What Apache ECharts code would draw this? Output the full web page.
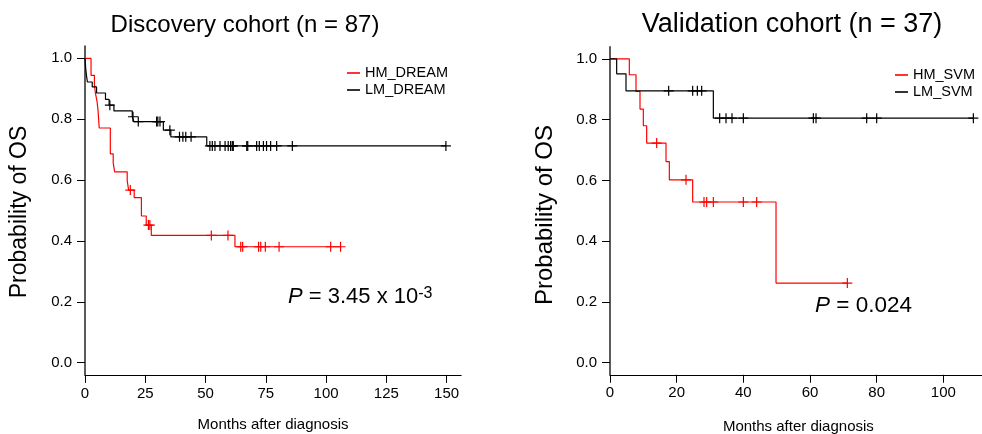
<!DOCTYPE html>
<html>
<head>
<meta charset="utf-8">
<script src="https://cdn.jsdelivr.net/npm/echarts@6/dist/echarts.min.js"></script>
<style>
html,body{margin:0;padding:0;background:#fff;}
#chart{width:982px;height:434px;}
</style>
</head>
<body>
<div id="chart"></div>
<script>
// ---------- Data ----------
const titles = ['Discovery cohort (n = 87)', 'Validation cohort (n = 37)'];
const xAxisName = 'Months after diagnosis';
const yAxisName = 'Probability of OS';
const discXTicks = [0, 25, 50, 75, 100, 125, 150];
const valXTicks = [0, 20, 40, 60, 80, 100];
const yTicks = [0, 0.2, 0.4, 0.6, 0.8, 1.0];

// Discovery HM_DREAM (red) KM steps
const discHMTime = [0, 2.5, 3.9, 4.3, 5.0, 5.4, 5.9, 10.5, 11.7, 12.3, 17.5, 18.1, 20.4, 23.4, 25.4, 27.5, 62.2, 106];
const discHMSurv = [1.0, 0.944, 0.915, 0.886, 0.858, 0.829, 0.771, 0.686, 0.657, 0.627, 0.598, 0.567, 0.542, 0.482, 0.452, 0.418, 0.381, 0.381];
const discHMCensorTime = [18.8, 26.3, 26.9, 52.4, 59.3, 64.6, 65.4, 72.0, 72.9, 74.8, 80.5, 101.9, 106];
const discHMCensorSurv = [0.567, 0.452, 0.452, 0.418, 0.418, 0.381, 0.381, 0.381, 0.381, 0.381, 0.381, 0.381, 0.381];

// Discovery LM_DREAM (black)
const discLMTime = [0, 0.3, 0.6, 1.0, 3.0, 4.8, 8.5, 10.0, 12.0, 19.6, 20.3, 32.5, 35.6, 50.5, 149.7];
const discLMSurv = [1.0, 0.966, 0.944, 0.922, 0.906, 0.886, 0.865, 0.846, 0.827, 0.808, 0.792, 0.764, 0.742, 0.712, 0.712];
const discLMCensorTime = [10.3, 19.9, 22.1, 29.7, 30.2, 31.1, 35.2, 39.2, 40.6, 41.8, 44.0,
  51.8, 52.8, 53.9, 56.0, 58.1, 59.4, 60.4, 61.1, 61.5, 67.1, 67.5, 71.2, 72.3, 74.0, 75.3, 77.0, 79.5, 86.0, 149.7];
const discLMCensorSurv = [0.846, 0.808, 0.792, 0.792, 0.792, 0.792, 0.764, 0.742, 0.742, 0.742, 0.742,
  0.712, 0.712, 0.712, 0.712, 0.712, 0.712, 0.712, 0.712, 0.712, 0.712, 0.712, 0.712, 0.712, 0.712, 0.712, 0.712, 0.712, 0.712, 0.712];

// Validation HM_SVM (red)
const valHMTime = [0, 5.8, 7.8, 9.0, 10.0, 11.0, 16.8, 17.8, 24.8, 49.8, 71.2];
const valHMSurv = [1.0, 0.948, 0.893, 0.835, 0.780, 0.723, 0.662, 0.602, 0.529, 0.262, 0.262];
const valHMCensorTime = [14.0, 22.8, 28.2, 29.0, 31.0, 40.0, 44.0, 71.2];
const valHMCensorSurv = [0.723, 0.602, 0.529, 0.529, 0.529, 0.529, 0.529, 0.262];

// Validation LM_SVM (black)
const valLMTime = [0, 2.0, 4.8, 31.0, 109];
const valLMSurv = [1.0, 0.951, 0.895, 0.805, 0.805];
const valLMCensorTime = [17.6, 24.8, 26.2, 27.5, 32.9, 34.8, 36.6, 40.0, 61.0, 61.8, 77.0, 80.0, 109];
const valLMCensorSurv = [0.895, 0.895, 0.895, 0.895, 0.805, 0.805, 0.805, 0.805, 0.805, 0.805, 0.805, 0.805, 0.805];

const pTexts = ['{i|P} = 3.45 x 10{s|-3}', '{i|P} = 0.024'];

// ---------- Helpers ----------
const FONT = '"Liberation Sans", Arial, Helvetica, sans-serif';
const RED = '#ff0000', BLACK = '#000000';
const PLUS = 'path://M4.4,0H5.6V4.4H10V5.6H5.6V10H4.4V5.6H0V4.4H4.4Z';
const zip = (a, b) => a.map((v, i) => [v, b[i]]);

function stepSeries(name, t, s, color, idx) {
  return {
    type: 'line', name: name, xAxisIndex: idx, yAxisIndex: idx,
    data: zip(t, s), step: 'end', showSymbol: false, symbol: 'none',
    lineStyle: { color: color, width: 1.2 }, itemStyle: { color: color },
    animation: false, silent: true, z: 3
  };
}
function censorSeries(name, t, s, color, idx) {
  return {
    type: 'scatter', name: name, xAxisIndex: idx, yAxisIndex: idx,
    data: zip(t, s), symbol: PLUS, symbolSize: 10,
    itemStyle: { color: color, opacity: 1 }, animation: false, silent: true, z: 4
  };
}
function xAxis(idx, max, ticks, gap) {
  return {
    type: 'value', gridIndex: idx, min: 0, max: max,
    name: xAxisName, nameLocation: 'middle', nameGap: gap,
    nameTextStyle: { fontFamily: FONT, fontSize: 15, color: '#000' },
    axisLine: { show: true, onZero: false, lineStyle: { color: '#000', width: 1.2 } },
    axisTick: { show: true, length: 8, customValues: ticks, lineStyle: { color: '#000', width: 1 } },
    axisLabel: { customValues: ticks, margin: 11, fontFamily: FONT, fontSize: 15, color: '#000' },
    splitLine: { show: false }
  };
}
function yAxis(idx) {
  return {
    type: 'value', gridIndex: idx, min: -0.04, max: 1.04,
    axisLine: { show: true, onZero: false, lineStyle: { color: '#333', width: 1.6 } },
    axisTick: { show: true, length: 8, customValues: yTicks, lineStyle: { color: '#000', width: 1 } },
    axisLabel: { customValues: yTicks, margin: 13, fontFamily: FONT, fontSize: 15, color: '#000',
      formatter: v => v.toFixed(1) },
    splitLine: { show: false }
  };
}
function legend(names, left, top) {
  return {
    data: names, orient: 'vertical', left: left, top: top, padding: 0,
    icon: 'rect', itemWidth: 13, itemHeight: 1.6, itemGap: 1,
    textStyle: { fontFamily: FONT, fontSize: 14.5, color: '#000', lineHeight: 16 },
    selectedMode: false
  };
}

const chart = echarts.init(document.getElementById('chart'), null, { renderer: 'canvas' });
chart.setOption({
  backgroundColor: '#fff',
  animation: false,
  grid: [
    { left: 85, top: 46.1, width: 376.1, height: 328.8, containLabel: false, outerBoundsMode: 'none' },
    { left: 610, top: 46.8, width: 376.7, height: 328.0, containLabel: false, outerBoundsMode: 'none' }
  ],
  xAxis: [xAxis(0, 156, discXTicks, 42), xAxis(1, 113, valXTicks, 45)],
  yAxis: [yAxis(0), yAxis(1)],
  legend: [legend(['HM_DREAM', 'LM_DREAM'], 347, 65), legend(['HM_SVM', 'LM_SVM'], 895, 67)],
  series: [
    stepSeries('HM_DREAM', discHMTime, discHMSurv, RED, 0),
    stepSeries('LM_DREAM', discLMTime, discLMSurv, BLACK, 0),
    censorSeries('HM_DREAM', discHMCensorTime, discHMCensorSurv, RED, 0),
    censorSeries('LM_DREAM', discLMCensorTime, discLMCensorSurv, BLACK, 0),
    stepSeries('HM_SVM', valHMTime, valHMSurv, RED, 1),
    stepSeries('LM_SVM', valLMTime, valLMSurv, BLACK, 1),
    censorSeries('HM_SVM', valHMCensorTime, valHMCensorSurv, RED, 1),
    censorSeries('LM_SVM', valLMCensorTime, valLMCensorSurv, BLACK, 1)
  ],
  graphic: [
    { type: 'text', x: 245, y: 25, style: { text: titles[0], fontFamily: FONT, fontSize: 24, fill: '#000', align: 'center', verticalAlign: 'middle' } },
    { type: 'text', x: 792, y: 25, style: { text: titles[1], fontFamily: FONT, fontSize: 27, fill: '#000', align: 'center', verticalAlign: 'middle' } },
    { type: 'text', x: 20, y: 212, rotation: Math.PI / 2, style: { text: yAxisName, fontFamily: FONT, fontSize: 23, fill: '#000', align: 'center', verticalAlign: 'middle' } },
    { type: 'text', x: 545, y: 215, rotation: Math.PI / 2, style: { text: yAxisName, fontFamily: FONT, fontSize: 24, fill: '#000', align: 'center', verticalAlign: 'middle' } },
    { type: 'text', x: 288, y: 297, style: { text: pTexts[0], fontFamily: FONT, fontSize: 22, fill: '#000', align: 'left', verticalAlign: 'middle',
        rich: { i: { fontStyle: 'italic', fontFamily: FONT, fontSize: 22, fill: '#000' }, s: { fontFamily: FONT, fontSize: 16, fill: '#000', verticalAlign: 'top' } } } },
    { type: 'text', x: 815, y: 306, style: { text: pTexts[1], fontFamily: FONT, fontSize: 22.5, fill: '#000', align: 'left', verticalAlign: 'middle',
        rich: { i: { fontStyle: 'italic', fontFamily: FONT, fontSize: 22.5, fill: '#000' } } } }
  ]
});
</script>
</body>
</html>
